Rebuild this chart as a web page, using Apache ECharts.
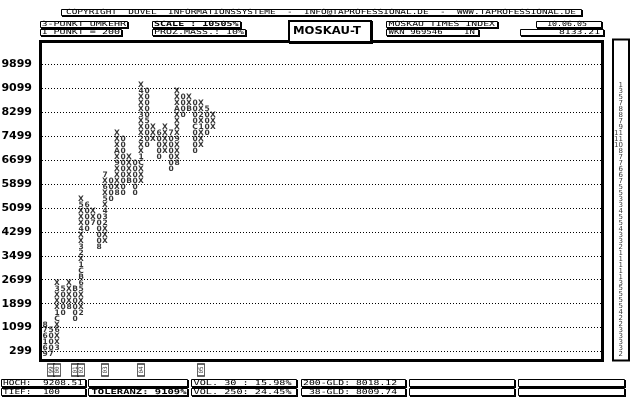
<!DOCTYPE html>
<html><head><meta charset="utf-8">
<script src="https://cdn.jsdelivr.net/npm/echarts@6/dist/echarts.min.js"></script>
<style>html,body{margin:0;padding:0;background:#fff}#c{width:640px;height:400px}</style>
</head><body><div id="c"></div>
<script>
// ---------- data ----------
const boxValue = 200;
const tickLabels = [299,1099,1899,2699,3499,4299,5099,5899,6699,7499,8299,9099,9899];
// point & figure columns: first box row (row k = k*boxValue) and marks from bottom to top
const colFirstRow = [1,1,2,8,9,7,8,22,23,19,20,27,28,28,30,28,30,36,37,34,35,32,33,41,42,35,36,38,39];
const colMarks = [
 "961678","70005","3XX6XC1XXX3X","00005","8XXXX","00000B",
 "2XXX56BC1X23XX4XXX5X","00006","7XX","800000","XXX234X5X6X7","0000",
 "8XXXX9XAXXX","0000000000","BXXXX","000000","XXXC1XX2XXX3XXX4X",
 "0000500000","XXX","00006","XXXXX","0000007","8XXX9XXXXAXXX","0000",
 "BXX","0000C0000","XXX1X2XX","00005","XXX"
];
// marks per row (row 1 .. row 46), right-hand strip
const stripCounts = [2,3,3,3,3,2,2,4,5,5,5,5,3,1,1,1,1,1,2,3,3,4,5,5,4,3,3,5,5,7,6,6,7,7,8,10,11,11,9,7,8,8,7,5,3,1];
const yearCols = [1,2,5,6,10,16,26];
const yearLabels = ['99','00','01','02','03','04','05'];

// ---------- layout helpers ----------
const PX = 0.0299, Y0 = 299, Y0PX = 351.5, TOP = 40, BOT = 358;
const yMin = Y0 - (BOT - Y0PX) / PX;
const yMax = Y0 + (Y0PX - TOP) / PX;
const xMin = -0.5, xMax = -0.5 + 560 / 6;

const ctx = document.createElement('canvas').getContext('2d');
const G = [];
function box(x0, y0, x1, y1, lw) {
  lw = lw || 1;
  G.push({type:'rect', z:20, shape:{x:x0+1, y:y0+1, width:x1-x0, height:y1-y0}, style:{fill:'#000'}});
  G.push({type:'rect', z:21, shape:{x:x0+lw/2, y:y0+lw/2, width:x1-x0-lw, height:y1-y0-lw}, style:{fill:'#fff', stroke:'#000', lineWidth:lw}});
}
function txt(str, x0, x1, yc, size, bold, family) {
  family = family || 'DejaVu Sans Mono';
  const font = (bold ? 'bold ' : '') + size + 'px "' + family + '"';
  ctx.font = font;
  const w = ctx.measureText(str).width;
  G.push({type:'text', z:22, x:x0, y:yc, scaleX:(x1-x0)/w, scaleY:1,
    style:{text:str, font:font, fill:'#000', align:'left', verticalAlign:'middle'}});
}

// plot frame and strip frame
G.push({type:'rect', z:15, shape:{x:40.5, y:41.5, width:562, height:319}, style:{fill:'none', stroke:'#000', lineWidth:3}});
G.push({type:'rect', z:15, shape:{x:613, y:39.5, width:16, height:321}, style:{fill:'none', stroke:'#000', lineWidth:2}});

// header
box(61, 9, 582, 16); txt('COPYRIGHT  DUVEL  INFORMATIONSSYSTEME  -  INFO@TAPROFESSIONAL.DE  -  WWW.TAPROFESSIONAL.DE', 66, 576, 12.6, 7);
box(40, 21, 128, 28); txt('3-PUNKT UMKEHR', 41.5, 126, 24.6, 7);
box(40, 29, 122, 36); txt('1 PUNKT = 200', 41.5, 120, 32.6, 7);
box(152, 21, 241, 28); txt('SCALE : 10505%', 154, 238.5, 24.6, 7, true);
box(152, 29, 246, 36); txt('PROZ.MASS.: 10%', 154, 244, 32.6, 7);
box(288, 20, 372, 43, 2); txt('MOSKAU-T', 293, 361, 31, 11, true, 'DejaVu Sans');
box(386, 21, 498, 28); txt('MOSKAU TIMES INDEX', 388.5, 495, 24.6, 7);
box(386, 29, 479, 36); txt('WKN 969546    IN', 388.5, 475, 32.6, 7);
box(536, 21, 602, 28); txt('10.06.05', 547, 587, 24.6, 7);
box(520, 29, 604, 36); txt('8133.21', 559, 600, 32.6, 7);

// footer table
const rA = [379, 387], rB = [388, 396];
[[1,86],[88,188],[191,297],[301,406],[409,515],[518,625]].forEach(c => { box(c[0], rA[0], c[1], rA[1]); box(c[0], rB[0], c[1], rB[1]); });
txt('HOCH:  9208.51', 3, 83, 383, 7);
txt('TIEF:  100', 3, 60, 392, 7);
txt('TOLERANZ: 9109%', 91.5, 186.5, 392, 7, true);
txt('VOL. 30 : 15.98%', 193.5, 291.5, 383, 7);
txt('VOL. 250: 24.45%', 193.5, 291.5, 392, 7);
txt('200-GLD: 8018.12', 303, 397, 383, 7);
txt(' 38-GLD: 8009.74', 303, 397, 392, 7);

// ---------- series data ----------
const pfData = [];
colMarks.forEach((s, c) => { for (let i = 0; i < s.length; i++) pfData.push({value:[c, (colFirstRow[c] + i) * boxValue], ch:s[i]}); });
const stripData = stripCounts.map((n, i) => ({value:[0.5, (i + 1) * boxValue], n:n}));
const yearData = yearCols.map((c, i) => ({value:[c, 0.5], yr:yearLabels[i]}));

const chart = echarts.init(document.getElementById('c'), null, {renderer:'canvas', width:640, height:400});
chart.setOption({
  animation:false,
  backgroundColor:'#fff',
  grid:[
    {left:42, right:38, top:TOP, bottom:400-BOT, containLabel:false, outerBoundsMode:'none'},
    {left:612, width:18, top:TOP, bottom:400-BOT, containLabel:false, outerBoundsMode:'none'},
    {left:42, right:38, top:363, height:14, containLabel:false, outerBoundsMode:'none'}
  ],
  xAxis:[
    {gridIndex:0, type:'value', min:xMin, max:xMax, show:false},
    {gridIndex:1, type:'value', min:0, max:1, show:false},
    {gridIndex:2, type:'value', min:xMin, max:xMax, show:false}
  ],
  yAxis:[
    {gridIndex:0, type:'value', min:yMin, max:yMax,
      axisLine:{show:false}, axisTick:{show:false}, splitLine:{show:false},
      axisLabel:{customValues:tickLabels, formatter:v => String(v), color:'#000', fontFamily:'DejaVu Sans', fontWeight:'bold', fontSize:11, margin:10}},
    {gridIndex:1, type:'value', min:yMin, max:yMax, show:false},
    {gridIndex:2, type:'value', min:0, max:1, show:false}
  ],
  graphic:{elements:G},
  series:[
    {type:'scatter', xAxisIndex:0, yAxisIndex:0, data:pfData, symbol:'circle', symbolSize:1,
      itemStyle:{color:'rgba(0,0,0,0)'}, silent:true, clip:false,
      label:{show:true, position:'inside', formatter:p => p.data.ch, color:'#000', fontSize:7.5, fontWeight:'bold', fontFamily:'DejaVu Sans'},
      markLine:{silent:true, symbol:['none','none'], label:{show:false}, animation:false,
        lineStyle:{type:[1,2], color:'#000', width:1, opacity:1},
        data:tickLabels.map(v => ({yAxis:v}))}},
    {type:'scatter', xAxisIndex:1, yAxisIndex:1, data:stripData, symbol:'circle', symbolSize:1,
      itemStyle:{color:'rgba(0,0,0,0)'}, silent:true,
      label:{show:true, position:'inside', align:'right', offset:[2,0], formatter:p => String(p.data.n), color:'#000', fontSize:7, fontFamily:'DejaVu Sans'}},
    {type:'scatter', xAxisIndex:2, yAxisIndex:2, data:yearData, symbol:'rect', symbolSize:[7,12], clip:false,
      itemStyle:{color:'#fff', borderColor:'#000', borderWidth:1}, silent:true,
      label:{show:true, position:'inside', rotate:90, formatter:p => p.data.yr, color:'#000', fontSize:6, fontFamily:'DejaVu Sans Mono'}}
  ]
});
</script></body></html>
